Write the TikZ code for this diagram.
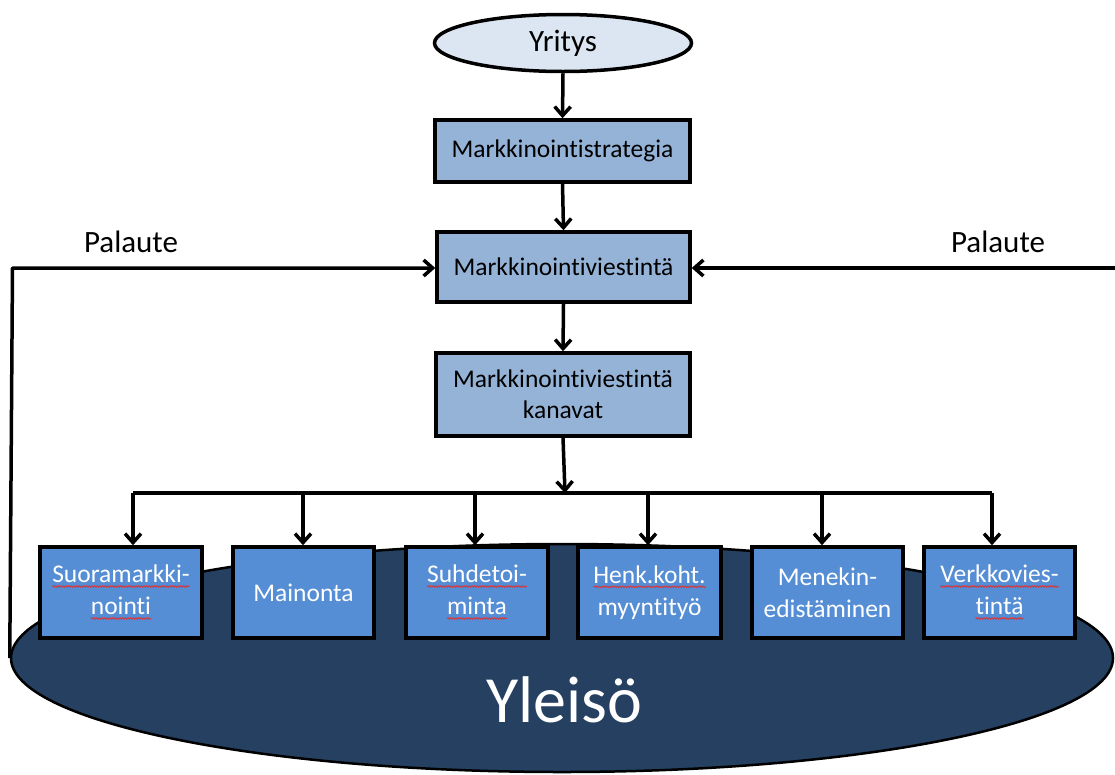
\documentclass[tikz,border=0pt]{standalone}
\usepackage{fontspec}
\setmainfont{Carlito}[Ligatures=NoCommon]
\usetikzlibrary{arrows.meta,decorations.pathmorphing,calc,shapes.geometric}
\definecolor{lightfill}{HTML}{95B3D7}
\definecolor{paleblue}{HTML}{DCE6F2}
\definecolor{midblue}{HTML}{558ED5}
\definecolor{navy}{HTML}{254061}
\definecolor{squig}{HTML}{E03030}
\newcommand\wv[1]{\tikz[baseline=(w.base)]{\node[inner sep=0pt,outer sep=0pt,minimum width=0pt,minimum height=0pt,draw=none,fill=none](w){#1};\draw[squig,line width=0.7pt,decorate,decoration={snake,amplitude=0.9pt,segment length=2.6pt}]([yshift=-3.5pt]w.base west)--([yshift=-3.5pt]w.base east);}}
\tikzset{
  topbox/.style={draw=black,line width=3.5pt,fill=lightfill,rectangle,inner sep=0pt,align=center,font=\fontsize{25.5}{31}\selectfont,text=black},
  chanbox/.style={draw=black,line width=3.5pt,fill=midblue,rectangle,inner sep=0pt,align=center,font=\fontsize{25.5}{32}\selectfont,text=white,minimum height=91pt},
  conn/.style={line width=3.5pt,-{Straight Barb[length=9pt,width=16pt]}},
  plain/.style={line width=3.5pt},
  lbl/.style={font=\fontsize{31}{36}\selectfont,inner sep=0pt}
}
\begin{document}
\begin{tikzpicture}[x=1pt,y=-1pt]
\useasboundingbox (0,0) rectangle (1115,774);
% audience
\node[ellipse,draw=black,line width=2.5pt,fill=navy,minimum width=1102pt,minimum height=228pt,inner sep=0pt] (yleiso) at (562,658) {};
\node[text=white,font=\fontsize{66}{72}\selectfont,inner sep=0pt] (yltxt) at (564,700) {Yleisö};
% top chain
\node[ellipse,draw=black,line width=3.5pt,fill=paleblue,minimum width=257pt,minimum height=57pt,inner sep=0pt,font=\fontsize{31}{36}\selectfont] (yritys) at (563,43) {Yritys};
\node[topbox,minimum width=255pt,minimum height=62pt] (strat) at (562.5,151) {Markkinointistrategia};
\node[topbox,minimum width=253pt,minimum height=70pt] (viest) at (563.5,267) {Markkinointiviestintä};
\node[topbox,minimum width=254pt,minimum height=83pt] (kan) at (563,394.5) {Markkinointiviestintä\\kanavat};
% channels
\node[chanbox,minimum width=162pt] (b1) at (121,592.5) {\wv{Suoramarkki-}\\\wv{nointi}};
\node[chanbox,minimum width=141pt] (b2) at (303.5,592.5) {Mainonta};
\node[chanbox,minimum width=142pt] (b3) at (477,592.5) {\wv{Suhdetoi-}\\\wv{minta}};
\node[chanbox,minimum width=143pt] (b4) at (649.5,592.5) {\wv{Henk.koht.}\\myyntityö};
\node[chanbox,minimum width=151pt] (b5) at (827.5,592.5) {Menekin-\\edistäminen};
\node[chanbox,minimum width=151pt] (b6) at (999.5,592.5) {\wv{Verkkovies-}\\\wv{tintä}};
% connectors
\draw[conn] (yritys.south) -- (strat.north);
\draw[conn] (strat.south) -- (viest.north);
\draw[conn] (viest.south) -- (kan.north);
\coordinate (hub) at (565,493);
\coordinate (h1) at (133,493);
\coordinate (h2) at (303,493);
\coordinate (h3) at (475,493);
\coordinate (h4) at (648,493);
\coordinate (h5) at (822,493);
\coordinate (h6) at (992,493);
\draw[conn] (kan.south) -- (hub);
\draw[plain,line join=round] (h1) -- (h6);
\draw[conn] (h1) -- (h1 |- b1.north);
\draw[conn] (h2) -- (h2 |- b2.north);
\draw[conn] (h3) -- (h3 |- b3.north);
\draw[conn] (h4) -- (h4 |- b4.north);
\draw[conn] (h5) -- (h5 |- b5.north);
\draw[conn] (h6) -- (h6 |- b6.north);
% feedback
\coordinate (lcorner) at (12.5,268);
\coordinate (rend) at (1120,268);
\draw[conn,line join=round] (yleiso.west) -- (lcorner) -- (lcorner -| viest.west);
\draw[conn] (rend) -- (rend -| viest.east);
\node[lbl] (pl) at (131,242) {Palaute};
\node[lbl] (pr) at (998,242) {Palaute};
\end{tikzpicture}
\end{document}
